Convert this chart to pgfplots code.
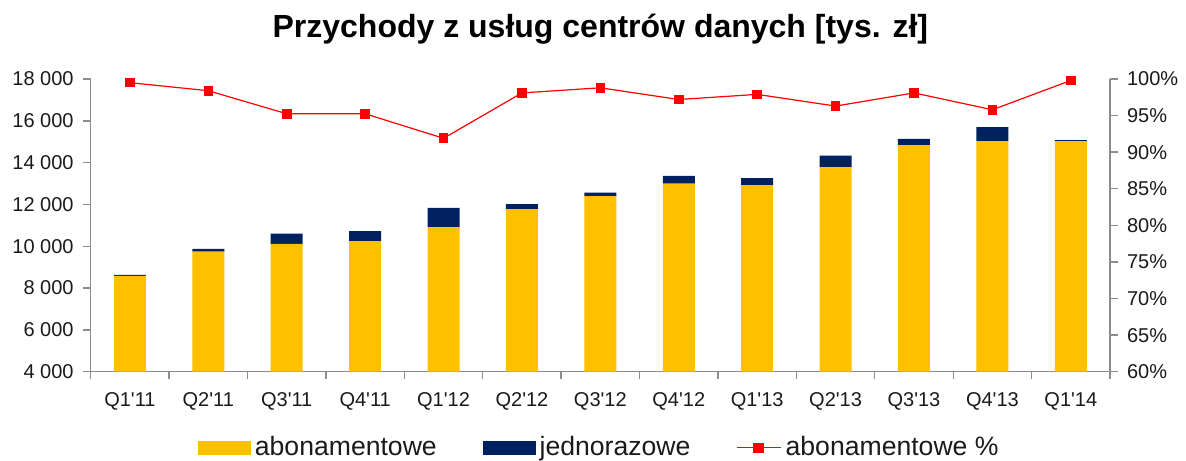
\documentclass[border=0pt]{standalone}
\usepackage{pgfplots}
\pgfplotsset{compat=1.18}
\usepackage{fontspec}
\setmainfont{Liberation Sans}
\definecolor{myyellow}{HTML}{FFC000}
\definecolor{mynavy}{HTML}{002060}
\definecolor{axgray}{HTML}{8C8C8C}
\definecolor{txt}{HTML}{1A1A1A}
\definecolor{linered}{HTML}{FF0000}

\begin{document}
\begin{tikzpicture}
\path[use as bounding box] (-45.35pt,-44.15pt) rectangle (547.65pt,185.85pt);
\pgfplotsset{
  base/.style={
    scale only axis, width=509.65pt, height=146.35pt,
    at={(0pt,0pt)}, anchor=south west,
    xmin=-0.5, xmax=12.5,
    axis line style={draw=axgray, line width=0.7pt, -},
    tick style={draw=axgray, line width=0.7pt},
    tick align=outside,
    major tick length=4pt,
    minor tick length=3.5pt,
    /pgf/number format/assume math mode=true,
    ticklabel style={font=\fontsize{10}{12}\selectfont, text=txt},
  }
}
\begin{axis}[base,
  axis x line*=bottom, axis y line*=left,
  ymin=4000, ymax=18000, ytick={4000,6000,...,18000},
  scaled y ticks=false,
  yticklabel style={/pgf/number format/fixed, /pgf/number format/1000 sep={\ }, xshift=-1pt},
  xtick={0,...,12},
  xticklabels={Q1\textquotesingle11,Q2\textquotesingle11,Q3\textquotesingle11,Q4\textquotesingle11,Q1\textquotesingle12,Q2\textquotesingle12,Q3\textquotesingle12,Q4\textquotesingle12,Q1\textquotesingle13,Q2\textquotesingle13,Q3\textquotesingle13,Q4\textquotesingle13,Q1\textquotesingle14},
  xticklabel style={yshift=-3pt},
  major x tick style={draw=none},
  minor xtick={-0.5,0.5,...,12.5},
  ybar stacked, bar width=16pt,
  title={Przychody z usług centrów danych [tys. zł]},
  title style={font=\fontsize{16}{19}\selectfont\bfseries, text=black, at={(0.5,1)}, anchor=base, yshift=14.5pt},
]
\addplot[fill=myyellow, draw=none] coordinates {
 (0,8580) (1,9745) (2,10110) (3,10240) (4,10910) (5,11775) (6,12395)
 (7,13000) (8,12925) (9,13785) (10,14840) (11,15030) (12,15030)};
\addplot[fill=mynavy, draw=none] coordinates {
 (0,50) (1,130) (2,495) (3,480) (4,925) (5,240) (6,175)
 (7,370) (8,335) (9,555) (10,300) (11,670) (12,50)};
\end{axis}
\begin{axis}[base,
  axis x line=none, axis y line*=right,
  ymin=60, ymax=100, ytick={60,65,...,100},
  yticklabel={\pgfmathprintnumber{\tick}\%},
  yticklabel style={xshift=1pt},
  clip=false,
  legend style={draw=none, fill=none, at={(0.5,0)}, anchor=center, yshift=-38pt,
    font=\fontsize{13.3}{16}\selectfont, text=txt,
    /tikz/every even column/.append style={column sep=21pt}},
  legend columns=3,
]
\addlegendimage{legend image code/.code={\fill[myyellow] (0pt,-3.25pt) rectangle (26pt,3.25pt);}}
\addlegendentry{abonamentowe}
\addlegendimage{legend image code/.code={\fill[mynavy] (0pt,-3.25pt) rectangle (26pt,3.25pt);}}
\addlegendentry{jednorazowe}
\addplot[linered, line width=0.6pt, mark=square*, mark size=2.1pt, mark options={fill=linered, draw=linered},
  legend image code/.code={\draw[linered, line width=0.6pt] (0pt,0pt) -- (22pt,0pt); \fill[linered] (8.5pt,-2.3pt) rectangle (13.1pt,2.3pt);}]
  coordinates {
 (0,99.5) (1,98.4) (2,95.25) (3,95.25) (4,91.9) (5,98.1) (6,98.8)
 (7,97.2) (8,97.9) (9,96.3) (10,98.1) (11,95.8) (12,99.8)};
\addlegendentry{abonamentowe \%}
\end{axis}
\end{tikzpicture}
\end{document}
